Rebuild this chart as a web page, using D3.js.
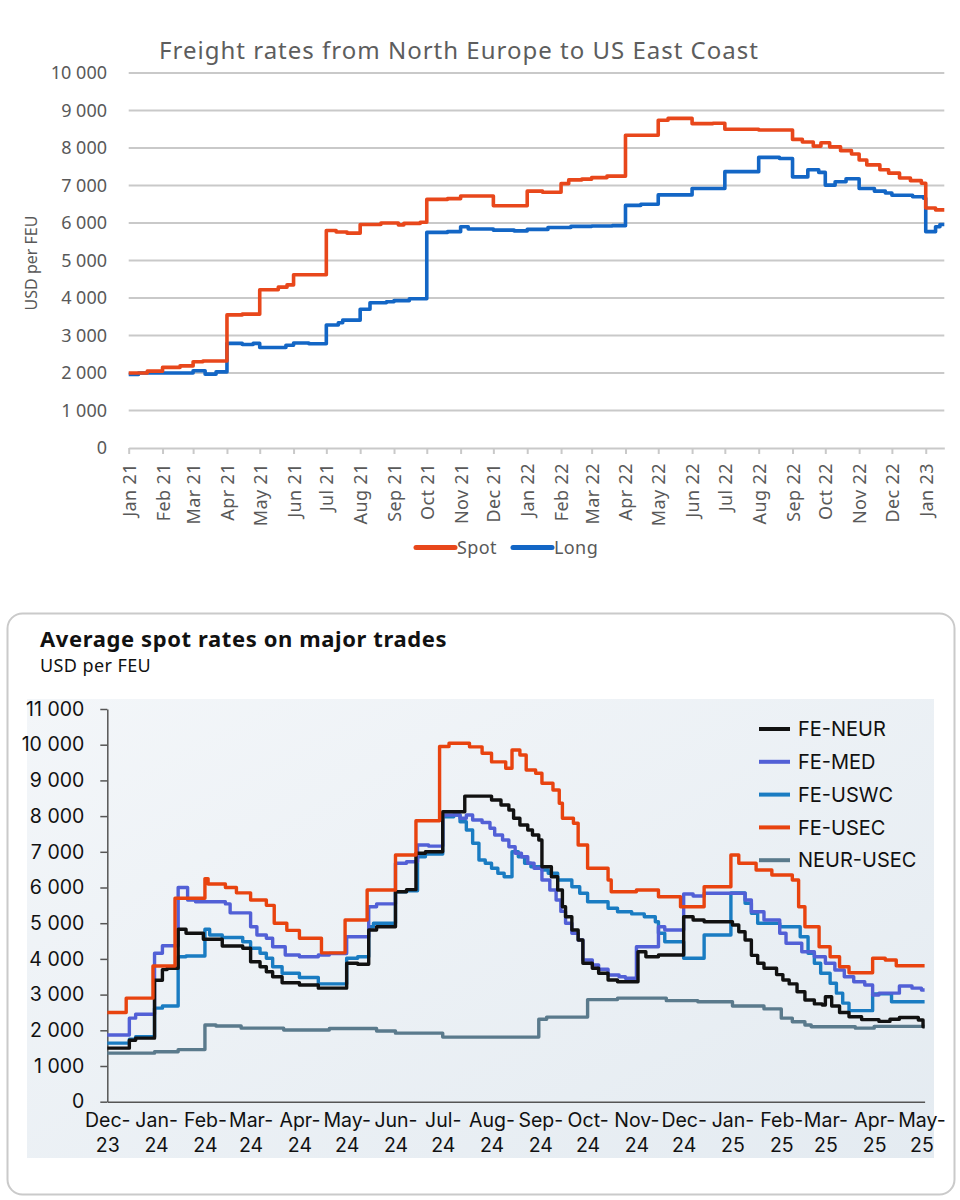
<!DOCTYPE html>
<html>
<head>
<meta charset="utf-8">
<script src="https://cdnjs.cloudflare.com/ajax/libs/d3/7.8.5/d3.min.js"></script>
<style>
  body { margin: 0; background: #fff; }
</style>
</head>
<body>
<div id="chart"></div>
<script>
// ---- top chart data: North Europe -> US East Coast (USD per FEU) ----
var spotRates = [
  ["2021-01-01", 2000], ["2021-01-18", 2050], ["2021-02-01", 2150], ["2021-02-17", 2190],
  ["2021-03-01", 2300], ["2021-03-10", 2320], ["2021-04-01", 3550], ["2021-04-15", 3570],
  ["2021-05-01", 4220], ["2021-05-18", 4290], ["2021-05-26", 4350], ["2021-06-01", 4620],
  ["2021-07-01", 5800], ["2021-07-10", 5760], ["2021-07-20", 5730], ["2021-08-01", 5960],
  ["2021-08-20", 6000], ["2021-09-05", 5950], ["2021-09-10", 5990], ["2021-09-25", 6020],
  ["2021-10-01", 6630], ["2021-10-20", 6650], ["2021-11-01", 6720], ["2021-12-01", 6460],
  ["2022-01-01", 6850], ["2022-01-15", 6820], ["2022-02-01", 7050], ["2022-02-08", 7150],
  ["2022-02-20", 7170], ["2022-03-01", 7210], ["2022-03-15", 7250], ["2022-04-01", 8340],
  ["2022-05-01", 8740], ["2022-05-10", 8790], ["2022-06-01", 8650], ["2022-06-20", 8660],
  ["2022-07-01", 8500], ["2022-08-01", 8480], ["2022-09-01", 8230], ["2022-09-10", 8160],
  ["2022-09-20", 8050], ["2022-09-27", 8140], ["2022-10-05", 8030], ["2022-10-15", 7930],
  ["2022-10-25", 7840], ["2022-11-01", 7680], ["2022-11-08", 7550], ["2022-11-20", 7420],
  ["2022-11-28", 7330], ["2022-12-08", 7200], ["2022-12-18", 7130], ["2022-12-28", 7060],
  ["2023-01-01", 6400], ["2023-01-10", 6350], ["2023-01-18", 6350]
];
var longRates = [
  ["2021-01-01", 1960], ["2021-01-10", 2000], ["2021-03-01", 2060], ["2021-03-12", 1970],
  ["2021-03-22", 2030], ["2021-04-01", 2790], ["2021-04-15", 2760], ["2021-04-25", 2790],
  ["2021-05-01", 2680], ["2021-05-25", 2740], ["2021-06-01", 2800], ["2021-06-15", 2780],
  ["2021-07-01", 3280], ["2021-07-12", 3340], ["2021-07-16", 3410], ["2021-08-01", 3700],
  ["2021-08-10", 3875], ["2021-08-25", 3900], ["2021-09-01", 3930], ["2021-09-15", 3980],
  ["2021-10-01", 5750], ["2021-10-20", 5770], ["2021-11-01", 5900], ["2021-11-08", 5840],
  ["2021-12-01", 5810], ["2021-12-20", 5790], ["2022-01-01", 5830], ["2022-01-20", 5880],
  ["2022-02-10", 5910], ["2022-03-01", 5920], ["2022-03-20", 5930], ["2022-04-01", 6470],
  ["2022-04-15", 6500], ["2022-05-01", 6750], ["2022-06-01", 6920], ["2022-07-01", 7370],
  ["2022-08-01", 7750], ["2022-08-20", 7720], ["2022-09-01", 7230], ["2022-09-15", 7420],
  ["2022-09-25", 7350], ["2022-10-01", 7010], ["2022-10-10", 7100], ["2022-10-20", 7180],
  ["2022-11-01", 6920], ["2022-11-15", 6850], ["2022-11-25", 6800], ["2022-12-01", 6740],
  ["2022-12-20", 6700], ["2022-12-30", 6660], ["2023-01-01", 5770], ["2023-01-10", 5900],
  ["2023-01-14", 5960], ["2023-01-18", 5960]
];
var topYTicks = [0, 1000, 2000, 3000, 4000, 5000, 6000, 7000, 8000, 9000, 10000];

// ---- bottom chart data: average spot rates on major trades (USD per FEU) ----
var feNeur = [
  ["2023-12-01", 1500], ["2023-12-15", 1720], ["2023-12-19", 1780], ["2023-12-31", 3400],
  ["2024-01-05", 3700], ["2024-01-08", 3740], ["2024-01-15", 4830], ["2024-01-20", 4720],
  ["2024-01-31", 4550], ["2024-02-12", 4360], ["2024-02-25", 4300], ["2024-03-01", 3920],
  ["2024-03-07", 3780], ["2024-03-11", 3640], ["2024-03-15", 3500], ["2024-03-21", 3330],
  ["2024-04-01", 3270], ["2024-04-13", 3180], ["2024-05-01", 3880], ["2024-05-08", 3850],
  ["2024-05-15", 4810], ["2024-05-20", 4900], ["2024-06-01", 5880], ["2024-06-08", 5940],
  ["2024-06-14", 6960], ["2024-06-20", 7000], ["2024-07-01", 8120], ["2024-07-15", 8560],
  ["2024-08-01", 8450], ["2024-08-07", 8310], ["2024-08-12", 8170], ["2024-08-15", 7940],
  ["2024-08-19", 7750], ["2024-08-24", 7610], ["2024-08-27", 7470], ["2024-08-31", 7330],
  ["2024-09-02", 6580], ["2024-09-08", 6300], ["2024-09-12", 5930], ["2024-09-15", 5460],
  ["2024-09-17", 5180], ["2024-09-21", 4810], ["2024-09-25", 4530], ["2024-09-28", 3880],
  ["2024-10-04", 3740], ["2024-10-08", 3600], ["2024-10-14", 3410], ["2024-10-20", 3360],
  ["2024-11-02", 4200], ["2024-11-07", 4060], ["2024-11-15", 4110], ["2024-12-01", 5180],
  ["2024-12-07", 5090], ["2024-12-14", 5040], ["2025-01-01", 4950], ["2025-01-05", 4760],
  ["2025-01-09", 4530], ["2025-01-13", 4100], ["2025-01-17", 3880], ["2025-01-21", 3740],
  ["2025-01-29", 3560], ["2025-02-02", 3410], ["2025-02-06", 3300], ["2025-02-11", 3080],
  ["2025-02-16", 2850], ["2025-02-22", 2740], ["2025-02-27", 2710], ["2025-03-01", 2940],
  ["2025-03-05", 2680], ["2025-03-10", 2500], ["2025-03-16", 2380], ["2025-03-24", 2300],
  ["2025-04-04", 2250], ["2025-04-11", 2310], ["2025-04-17", 2360], ["2025-04-29", 2290],
  ["2025-05-02", 2100], ["2025-05-03", 2100]
];
var feMed = [
  ["2023-12-01", 1870], ["2023-12-15", 2340], ["2023-12-19", 2450], ["2023-12-31", 4160],
  ["2024-01-05", 4370], ["2024-01-15", 6000], ["2024-01-21", 5650], ["2024-01-26", 5600],
  ["2024-02-14", 5540], ["2024-02-17", 5290], ["2024-03-01", 4900], ["2024-03-05", 4670],
  ["2024-03-11", 4580], ["2024-03-15", 4340], ["2024-03-23", 4110], ["2024-04-01", 4060],
  ["2024-04-13", 4110], ["2024-04-20", 4150], ["2024-05-01", 4620], ["2024-05-15", 5460],
  ["2024-05-20", 5540], ["2024-06-01", 6680], ["2024-06-08", 6720], ["2024-06-15", 7190],
  ["2024-06-22", 7160], ["2024-07-01", 8030], ["2024-07-12", 7940], ["2024-07-16", 8030],
  ["2024-07-20", 7890], ["2024-07-26", 7820], ["2024-07-31", 7660], ["2024-08-03", 7470],
  ["2024-08-08", 7330], ["2024-08-12", 7140], ["2024-08-16", 6960], ["2024-08-20", 6860],
  ["2024-08-24", 6680], ["2024-08-28", 6540], ["2024-09-02", 6210], ["2024-09-07", 5930],
  ["2024-09-11", 5650], ["2024-09-14", 5330], ["2024-09-17", 5000], ["2024-09-21", 4720],
  ["2024-09-25", 4530], ["2024-09-28", 3970], ["2024-10-04", 3830], ["2024-10-08", 3710],
  ["2024-10-14", 3550], ["2024-10-21", 3500], ["2024-10-25", 3460], ["2024-11-01", 4340],
  ["2024-11-15", 4900], ["2024-11-19", 4810], ["2024-12-01", 5820], ["2024-12-07", 5760],
  ["2024-12-14", 5840], ["2025-01-09", 5650], ["2025-01-13", 5320], ["2025-01-21", 5090],
  ["2025-01-31", 4720], ["2025-02-04", 4440], ["2025-02-14", 4200], ["2025-02-22", 4060],
  ["2025-03-01", 3880], ["2025-03-07", 3690], ["2025-03-13", 3500], ["2025-03-19", 3360],
  ["2025-03-26", 3270], ["2025-03-31", 2990], ["2025-04-04", 3040], ["2025-04-17", 3240],
  ["2025-04-25", 3180], ["2025-05-01", 3130], ["2025-05-03", 3130]
];
var feUswc = [
  ["2023-12-01", 1640], ["2023-12-15", 1750], ["2023-12-19", 1820], ["2023-12-31", 2620],
  ["2024-01-05", 2680], ["2024-01-15", 4060], ["2024-01-20", 4080], ["2024-02-01", 4830],
  ["2024-02-04", 4670], ["2024-02-12", 4600], ["2024-02-25", 4480], ["2024-03-01", 4300],
  ["2024-03-07", 4160], ["2024-03-11", 4020], ["2024-03-15", 3780], ["2024-03-21", 3600],
  ["2024-04-01", 3480], ["2024-04-13", 3300], ["2024-05-01", 4020], ["2024-05-08", 4060],
  ["2024-05-15", 4900], ["2024-05-18", 5000], ["2024-06-01", 5880], ["2024-06-08", 5910],
  ["2024-06-15", 6860], ["2024-06-20", 6940], ["2024-07-01", 7980], ["2024-07-08", 8030],
  ["2024-07-12", 7840], ["2024-07-16", 7610], ["2024-07-20", 7240], ["2024-07-24", 6770],
  ["2024-07-28", 6680], ["2024-08-01", 6540], ["2024-08-05", 6400], ["2024-08-09", 6300],
  ["2024-08-14", 7000], ["2024-08-18", 6860], ["2024-08-22", 6680], ["2024-08-26", 6580],
  ["2024-09-02", 6490], ["2024-09-06", 6400], ["2024-09-12", 6210], ["2024-09-21", 6020],
  ["2024-09-26", 5840], ["2024-10-01", 5600], ["2024-10-14", 5420], ["2024-10-20", 5320],
  ["2024-10-29", 5260], ["2024-11-06", 5180], ["2024-11-13", 5040], ["2024-11-15", 4720],
  ["2024-11-19", 4480], ["2024-12-01", 4020], ["2024-12-14", 4670], ["2024-12-31", 5850],
  ["2025-01-09", 5560], ["2025-01-13", 5280], ["2025-01-17", 5000], ["2025-01-31", 4900],
  ["2025-02-13", 4620], ["2025-02-18", 4160], ["2025-02-22", 3880], ["2025-02-26", 3600],
  ["2025-03-04", 3320], ["2025-03-08", 3040], ["2025-03-12", 2760], ["2025-03-16", 2550],
  ["2025-03-31", 3020], ["2025-04-12", 2800], ["2025-05-03", 2800]
];
var feUsec = [
  ["2023-12-01", 2500], ["2023-12-13", 2900], ["2023-12-30", 3800], ["2024-01-13", 5700],
  ["2024-02-01", 6250], ["2024-02-03", 6100], ["2024-02-14", 6000], ["2024-02-21", 5850],
  ["2024-03-01", 5650], ["2024-03-11", 5500], ["2024-03-16", 5000], ["2024-03-24", 4800],
  ["2024-04-01", 4580], ["2024-04-15", 4170], ["2024-04-30", 5090], ["2024-05-14", 5930],
  ["2024-06-01", 6910], ["2024-06-14", 7870], ["2024-06-29", 9950], ["2024-07-05", 10040],
  ["2024-07-18", 9940], ["2024-07-26", 9760], ["2024-08-01", 9520], ["2024-08-10", 9340],
  ["2024-08-14", 9850], ["2024-08-19", 9710], ["2024-08-23", 9290], ["2024-08-29", 9200],
  ["2024-09-02", 8920], ["2024-09-09", 8730], ["2024-09-13", 8360], ["2024-09-15", 7940],
  ["2024-09-22", 7800], ["2024-09-25", 7190], ["2024-10-01", 6540], ["2024-10-14", 6210],
  ["2024-10-16", 5880], ["2024-11-01", 5930], ["2024-11-15", 5740], ["2024-11-29", 5460],
  ["2024-12-14", 6020], ["2024-12-31", 6910], ["2025-01-05", 6680], ["2025-01-16", 6490],
  ["2025-01-26", 6350], ["2025-02-08", 6210], ["2025-02-12", 5460], ["2025-02-16", 4900],
  ["2025-02-25", 4340], ["2025-03-04", 4060], ["2025-03-10", 3780], ["2025-03-16", 3610],
  ["2025-03-31", 4020], ["2025-04-08", 3970], ["2025-04-15", 3810], ["2025-05-03", 3810]
];
var neurUsec = [
  ["2023-12-01", 1360], ["2023-12-31", 1400], ["2024-01-15", 1460], ["2024-02-01", 2150],
  ["2024-02-08", 2120], ["2024-02-24", 2060], ["2024-03-22", 2010], ["2024-04-20", 2050],
  ["2024-05-20", 1980], ["2024-06-01", 1920], ["2024-07-01", 1810], ["2024-08-31", 2310],
  ["2024-09-05", 2370], ["2024-10-01", 2860], ["2024-10-20", 2900], ["2024-11-20", 2830],
  ["2024-12-10", 2800], ["2025-01-01", 2680], ["2025-01-21", 2600], ["2025-02-01", 2340],
  ["2025-02-08", 2240], ["2025-02-16", 2150], ["2025-02-20", 2100], ["2025-03-20", 2060],
  ["2025-04-01", 2110], ["2025-05-03", 2110]
];
var bottomYTicks = [0, 1000, 2000, 3000, 4000, 5000, 6000, 7000, 8000, 9000, 10000, 11000];
var tradeNames = ["FE-NEUR", "FE-MED", "FE-USWC", "FE-USEC", "NEUR-USEC"];
var tradeColors = ["#111111", "#5260d6", "#1a7cc2", "#e8430f", "#5a7a8c"];

var parse = d3.timeParse("%Y-%m-%d");
var fmt = function (v) { return d3.format(",")(v).replace(/,/g, " "); };

var svg = d3.select("#chart").append("svg")
  .attr("width", 960).attr("height", 1200)
  .style("display", "block");

// ================= top chart =================
var topG = svg.append("g");
var topFont = "'Noto Sans', 'Open Sans', sans-serif";
var topGrey = "#595959";

var x1 = d3.scaleTime()
  .domain([parse("2021-01-01"), parse("2023-01-18")])
  .range([128.7, 944.3]);
var y1 = d3.scaleLinear().domain([0, 10000]).range([448, 73]);

topG.append("text")
  .attr("x", 459).attr("y", 59)
  .attr("text-anchor", "middle")
  .style("font-family", topFont).style("font-size", "24px")
  .style("letter-spacing", "1px")
  .attr("fill", "#5d5d5d")
  .text("Freight rates from North Europe to US East Coast");

// gridlines
topG.selectAll(".grid").data(topYTicks.slice(1)).enter()
  .append("line")
  .attr("x1", 128.7).attr("x2", 944.3)
  .attr("y1", function (d) { return y1(d); })
  .attr("y2", function (d) { return y1(d); })
  .attr("stroke", "#c9c9c9").attr("stroke-width", 1.8);

topG.selectAll(".ylab").data(topYTicks).enter()
  .append("text")
  .attr("x", 107).attr("y", function (d) { return y1(d); })
  .attr("dy", "0.36em")
  .attr("text-anchor", "end")
  .style("font-family", topFont).style("font-size", "18px")
  .attr("fill", topGrey)
  .text(fmt);

topG.append("text")
  .attr("transform", "translate(37,263) rotate(-90)")
  .attr("text-anchor", "middle")
  .style("font-family", topFont).style("font-size", "16px")
  .attr("fill", topGrey)
  .text("USD per FEU");

var xAxis1 = d3.axisBottom(x1)
  .ticks(d3.timeMonth.every(1))
  .tickSize(6).tickSizeOuter(0)
  .tickFormat(d3.timeFormat("%b %y"));

var gx1 = topG.append("g")
  .attr("transform", "translate(0,448)")
  .call(xAxis1);
gx1.select(".domain").attr("stroke", "#c9c9c9").attr("stroke-width", 2);
gx1.selectAll(".tick line").attr("stroke", "#c9c9c9").attr("stroke-width", 2);
gx1.selectAll(".tick text")
  .attr("transform", "rotate(-90)")
  .attr("x", -15).attr("y", 0).attr("dy", "0.36em")
  .attr("text-anchor", "end")
  .style("font-family", topFont).style("font-size", "18px")
  .style("letter-spacing", "0.4px")
  .attr("fill", topGrey);

var line1 = d3.line()
  .curve(d3.curveStepAfter)
  .x(function (d) { return x1(parse(d[0])); })
  .y(function (d) { return y1(d[1]); });

topG.append("path").datum(longRates)
  .attr("d", line1).attr("fill", "none")
  .attr("stroke", "#1366c5").attr("stroke-width", 3.6)
  .attr("stroke-linejoin", "round");
topG.append("path").datum(spotRates)
  .attr("d", line1).attr("fill", "none")
  .attr("stroke", "#e8471b").attr("stroke-width", 3.6)
  .attr("stroke-linejoin", "round");

// legend
var topLegend = [["Spot", "#e8471b", 416], ["Long", "#1366c5", 513]];
var tl = topG.selectAll(".tleg").data(topLegend).enter().append("g");
tl.append("line")
  .attr("x1", function (d) { return d[2]; })
  .attr("x2", function (d) { return d[2] + 39; })
  .attr("y1", 547.5).attr("y2", 547.5)
  .attr("stroke", function (d) { return d[1]; })
  .attr("stroke-width", 5).attr("stroke-linecap", "round");
tl.append("text")
  .attr("x", function (d) { return d[2] + 41; })
  .attr("y", 547.5).attr("dy", "0.36em")
  .style("font-family", topFont).style("font-size", "18px")
  .style("letter-spacing", "0.4px")
  .attr("fill", topGrey)
  .text(function (d) { return d[0]; });

// ================= bottom chart =================
var bot = svg.append("g");
var botFont = "Inter, 'Liberation Sans', sans-serif";

var defs = svg.append("defs");
var grad = defs.append("linearGradient").attr("id", "plotbg")
  .attr("x1", "0%").attr("y1", "0%").attr("x2", "100%").attr("y2", "100%");
grad.append("stop").attr("offset", "0%").attr("stop-color", "#f3f6f9");
grad.append("stop").attr("offset", "100%").attr("stop-color", "#e4ebf1");

bot.append("rect")
  .attr("x", 7.5).attr("y", 613.5).attr("width", 947).attr("height", 581)
  .attr("rx", 15).attr("fill", "#fff")
  .attr("stroke", "#cacaca").attr("stroke-width", 2);

bot.append("rect")
  .attr("x", 27).attr("y", 699).attr("width", 907).attr("height", 459)
  .attr("fill", "url(#plotbg)");

bot.append("text")
  .attr("x", 40).attr("y", 647)
  .style("font-family", "'Noto Sans', sans-serif").style("font-size", "22px")
  .style("font-weight", "700").style("letter-spacing", "0.6px")
  .attr("fill", "#111")
  .text("Average spot rates on major trades");
bot.append("text")
  .attr("x", 40).attr("y", 672)
  .style("font-family", "'Noto Sans', sans-serif").style("font-size", "18px")
  .style("letter-spacing", "0.4px")
  .attr("fill", "#111")
  .text("USD per FEU");

var x2 = d3.scaleTime()
  .domain([parse("2023-12-01"), parse("2025-05-03")])
  .range([107.3, 924.6]);
var y2 = d3.scaleLinear().domain([0, 11000]).range([1101.7, 709]);

var yAxis2 = d3.axisLeft(y2)
  .tickValues(bottomYTicks)
  .tickSize(7).tickSizeOuter(0).tickPadding(16)
  .tickFormat(fmt);
var gy2 = bot.append("g")
  .attr("transform", "translate(107.3,0)")
  .call(yAxis2);
gy2.select(".domain").attr("stroke", "#555").attr("stroke-width", 1.5);
gy2.selectAll(".tick line").attr("stroke", "#555").attr("stroke-width", 1.5);
gy2.selectAll(".tick text")
  .style("font-family", botFont).style("font-size", "19.5px")
  .attr("fill", "#111");

var xAxis2 = d3.axisBottom(x2)
  .tickValues(d3.timeMonth.range(parse("2023-12-01"), parse("2025-05-02")))
  .tickSize(0).tickSizeOuter(0)
  .tickFormat("");
var gx2 = bot.append("g")
  .attr("transform", "translate(0,1101.7)")
  .call(xAxis2);
gx2.select(".domain").attr("stroke", "#555").attr("stroke-width", 1.5);
gx2.selectAll(".tick").each(function (d) {
  var t = d3.select(this).append("text")
    .attr("text-anchor", "middle")
    .style("font-family", botFont).style("font-size", "19.5px")
    .attr("fill", "#111");
  t.append("tspan").attr("x", 0).attr("y", 25).text(d3.timeFormat("%b-")(d));
  t.append("tspan").attr("x", 0).attr("y", 50).text(d3.timeFormat("%y")(d));
});

var line2 = d3.line()
  .curve(d3.curveStepAfter)
  .x(function (d) { return x2(parse(d[0])); })
  .y(function (d) { return y2(d[1]); });

var tradeSeries = [feNeur, feMed, feUswc, feUsec, neurUsec];
var drawOrder = [4, 2, 1, 0, 3];
drawOrder.forEach(function (i) {
  bot.append("path").datum(tradeSeries[i])
    .attr("d", line2).attr("fill", "none")
    .attr("stroke", tradeColors[i]).attr("stroke-width", 3.4)
    .attr("stroke-linejoin", "round");
});

var leg = bot.selectAll(".bleg").data(tradeNames).enter().append("g")
  .attr("transform", function (d, i) { return "translate(759," + (729 + i * 32.8) + ")"; });
leg.append("line")
  .attr("x1", 0).attr("x2", 31).attr("y1", 0).attr("y2", 0)
  .attr("stroke", function (d, i) { return tradeColors[i]; })
  .attr("stroke-width", 4);
leg.append("text")
  .attr("x", 39).attr("y", 0).attr("dy", "0.36em")
  .style("font-family", botFont).style("font-size", "20px")
  .attr("fill", "#111")
  .text(function (d) { return d; });
</script>
</body>
</html>
